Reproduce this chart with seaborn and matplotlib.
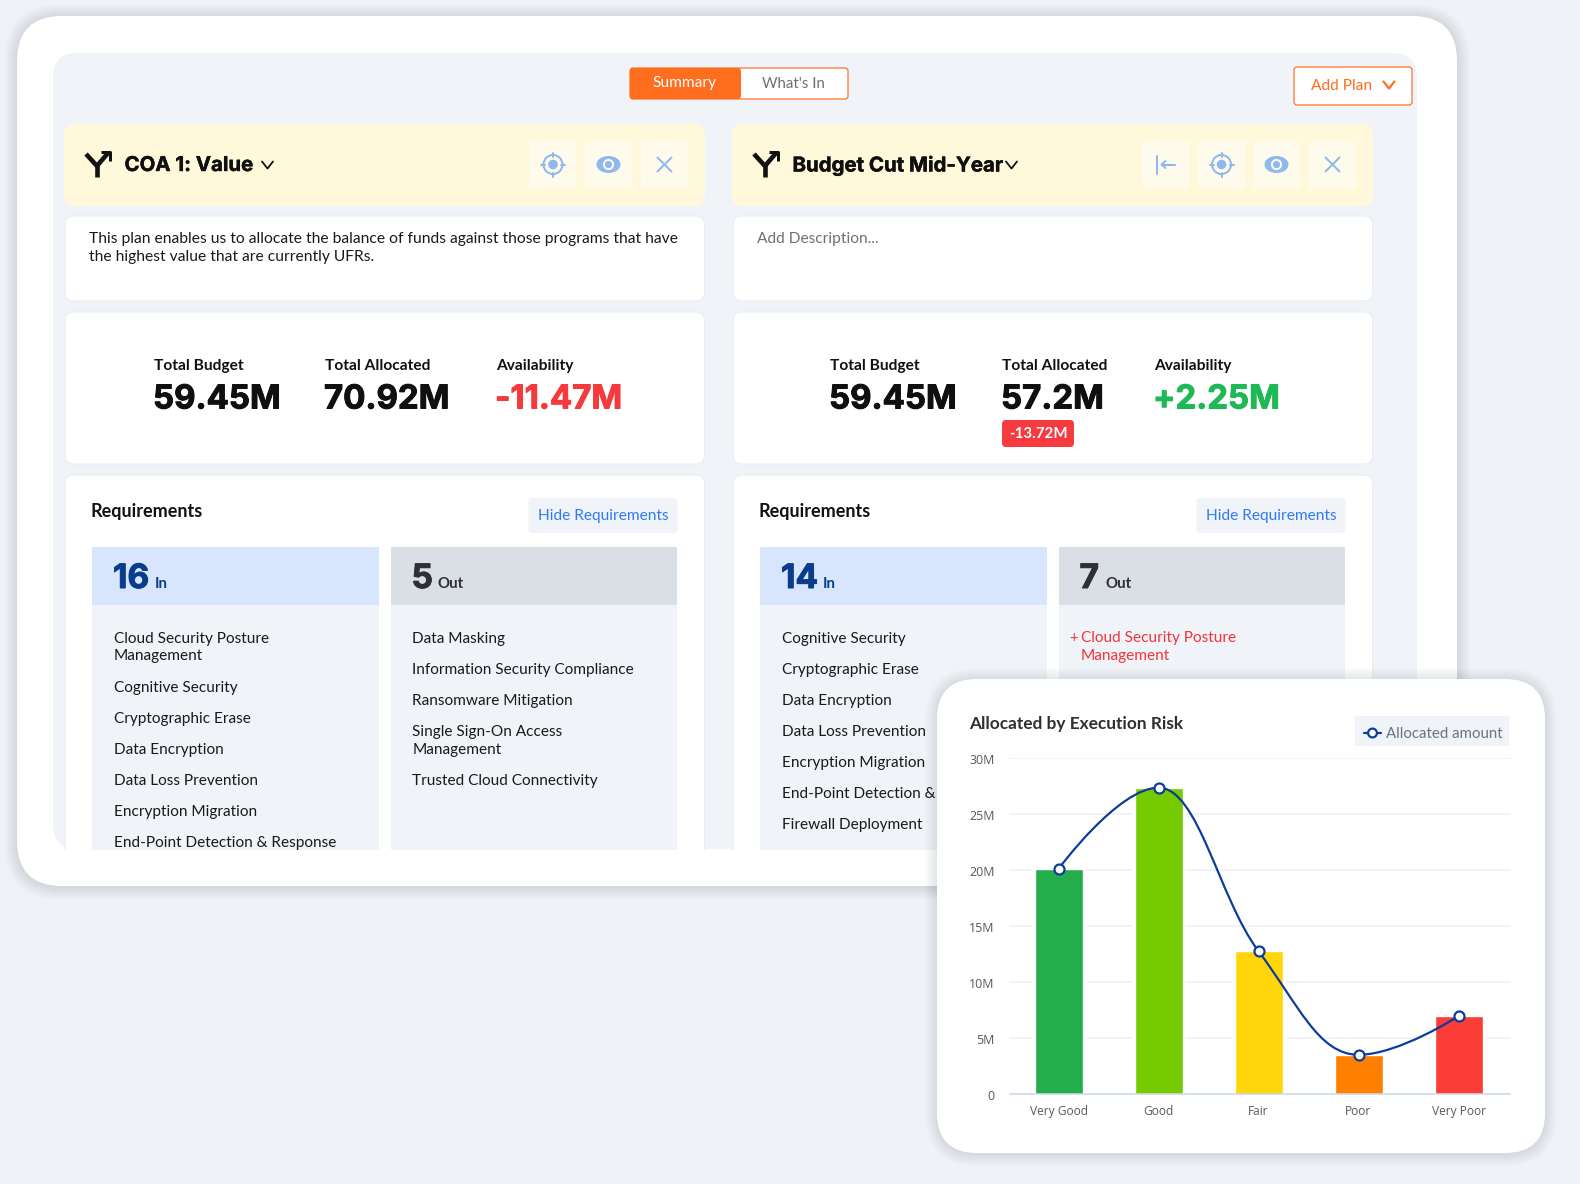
import matplotlib
matplotlib.use("Agg")
import matplotlib.pyplot as plt
import matplotlib.transforms as mtrans
import seaborn as sns
import pandas as pd
import numpy as np
from matplotlib.patches import FancyBboxPatch, Rectangle, Circle, Ellipse, PathPatch
from matplotlib.path import Path
from matplotlib.lines import Line2D
from matplotlib import patheffects as pe

# ---------- data ----------
risk_categories = ["Very Good", "Good", "Fair", "Poor", "Very Poor"]
allocated_millions = [20.1, 27.35, 12.75, 3.5, 6.95]
risk_colors = ["#23AE4B", "#76CB00", "#FFD60A", "#FF8000", "#FB3C37"]
y_ticks = [0, 5, 10, 15, 20, 25, 30]
y_tick_labels = ["0", "5M", "10M", "15M", "20M", "25M", "30M"]

plan_names = ["COA 1: Value", "Budget Cut Mid-Year"]
stat_labels = ["Total Budget", "Total Allocated", "Availability"]
plan1_stats = ["59.45M", "70.92M", "-11.47M"]
plan2_stats = ["59.45M", "57.2M", "+2.25M"]
plan1_desc = ["This plan enables us to allocate the balance of funds against those programs that have",
              "the highest value that are currently UFRs."]
plan1_in = [("Cloud Security Posture", 638), ("Management", 655), ("Cognitive Security", 687),
            ("Cryptographic Erase", 718), ("Data Encryption", 749), ("Data Loss Prevention", 780),
            ("Encryption Migration", 811), ("End-Point Detection & Response", 842)]
plan1_out = [("Data Masking", 638), ("Information Security Compliance", 669), ("Ransomware Mitigation", 700),
             ("Single Sign-On Access", 731), ("Management", 749), ("Trusted Cloud Connectivity", 780)]
plan2_in = [("Cognitive Security", 638), ("Cryptographic Erase", 669), ("Data Encryption", 700),
            ("Data Loss Prevention", 731), ("Encryption Migration", 762),
            ("End-Point Detection & Response", 793), ("Firewall Deployment", 824)]

# ---------- set-up ----------
W, H = 1580, 1184
sns.set_theme(style="white")
FONT = "Lato"
HEAVY = "Inter"
plt.rcParams["font.family"] = [FONT, "DejaVu Sans"]
BG = "#EFF3F8"
PANEL = "#F0F3F7"
ORANGE = "#FF6D1F"
ICON = "#8FB9EE"
BLUE = "#2E7CF6"
NAVY = "#0B3C8C"
RED = "#F5393D"
GREEN = "#1DB954"

fig = plt.figure(figsize=(W / 100, H / 100), dpi=100, facecolor=BG)
ui = fig.add_axes([0, 0, 1, 1])
ui.set_xlim(0, W)
ui.set_ylim(H, 0)
ui.axis("off")
px = 0.72  # points per pixel


def box(x0, y0, x1, y1, fc, r=0.0, ec="none", lw=0.0, z=1, alpha=1.0):
    style = f"round,pad=0,rounding_size={r}" if r else "square,pad=0"
    p = FancyBboxPatch((x0, y0), x1 - x0, y1 - y0, boxstyle=style, fc=fc, ec=ec,
                       lw=lw * px, zorder=z, alpha=alpha, mutation_aspect=1)
    ui.add_patch(p)
    return p


def shadow(x0, y0, x1, y1, r, spread, z, dy=1):
    for i in range(spread, 0, -1):
        box(x0 - i, y0 - i + dy, x1 + i, y1 + i + dy, "#4A5568", r + i, z=z, alpha=0.013)


def text(x, y, s, size, color="#111111", weight="normal", ha="left", z=5, clip=None, family=None, fat=0.0):
    t = ui.text(x, y + 1, s, fontsize=size * px, color=color, fontweight=weight, ha=ha,
                va="center", zorder=z)
    if family:
        t.set_fontfamily(family)
    if fat:
        t.set_path_effects([pe.withStroke(linewidth=fat, foreground=color)])
    if clip is not None:
        t.set_clip_path(clip)
        t.set_clip_on(True)
    return t


def line(xs, ys, color, lw=2.0, z=6, cap="round"):
    ui.add_line(Line2D(xs, ys, color=color, lw=lw * px, zorder=z, solid_capstyle=cap,
                       solid_joinstyle="round"))


def chevron(cx, cy, hw, hh, color, lw=2.0):
    line([cx - hw, cx, cx + hw], [cy - hh, cy + hh, cy - hh], color, lw)


def fork(dx):
    line([97 + dx, 97 + dx], [177, 165], "#111111", 4.6, cap="butt")
    line([86 + dx, 97 + dx, 108 + dx], [154, 166, 153], "#111111", 4.6, cap="butt")
    line([101 + dx, 110 + dx, 110 + dx], [152, 152, 161], "#111111", 3.0, cap="butt")


def target(cx, cy):
    ui.add_patch(Circle((cx, cy), 9.5, fc="none", ec=ICON, lw=2 * px, zorder=6))
    ui.add_patch(Circle((cx, cy), 4.8, fc=ICON, ec="none", zorder=6))
    line([cx, cx], [cy - 12, cy - 8], ICON)
    line([cx, cx], [cy + 8, cy + 12], ICON)
    line([cx - 12, cx - 8], [cy, cy], ICON)
    line([cx + 8, cx + 12], [cy, cy], ICON)


def eye(cx, cy):
    ui.add_patch(Ellipse((cx, cy), 24, 17, fc=ICON, ec="none", zorder=6))
    ui.add_patch(Circle((cx, cy), 5.6, fc="#FFFBEC", ec="none", zorder=6))
    ui.add_patch(Circle((cx, cy), 3.6, fc=ICON, ec="none", zorder=6))


def cross(cx, cy):
    line([cx - 7, cx + 7], [cy - 7, cy + 7], ICON, 2.0)
    line([cx - 7, cx + 7], [cy + 7, cy - 7], ICON, 2.0)


def collapse(cx, cy):
    line([cx - 9, cx - 9], [cy - 9, cy + 9], ICON, 2.0)
    line([cx - 4, cx + 9], [cy, cy], ICON, 2.0)
    line([cx, cx - 4, cx], [cy - 3.5, cy, cy + 3.5], ICON, 2.0)


# ---------- outer frame ----------
shadow(17, 16, 1457, 886, 45, 13, 0.5)
box(17, 16, 1457, 886, "white", 45, z=1)
box(53, 53, 1417, 849, PANEL, 24, z=1.5)
clip_rect = Rectangle((0, 0), W, 849.5, transform=ui.transData)

# ---------- tabs ----------
box(630, 68, 848, 99, "white", 3, ec=ORANGE, lw=1.2, z=2)
box(630, 68, 741, 99, ORANGE, 3, z=2.1)
text(685, 82.5, "Summary", 15.5, "white", ha="center")
text(793.5, 82.5, "What's In", 15, "#6F6F6F", ha="center")
box(1294, 67, 1412, 105, "white", 3, ec=ORANGE, lw=1.2, z=2)
text(1311, 84.5, "Add Plan", 15.5, ORANGE)
chevron(1389, 85, 5.5, 3.5, ORANGE, 2.2)


# ---------- plan columns ----------
def plan(left, dx, name, title_w, stats, stat_x, stat_colors, in_n, out_n, in_items, out_items, icons):
    # header
    box(left - 1, 124, left + 640, 206, "#FFF8DA", 10, z=2)
    fork(dx)
    text(124.5 + dx, 165, name, 20.4, "#0F0F0F", "bold", family=HEAVY, fat=0.3)
    chevron(124.5 + dx + title_w + 14, 165, 5.5, 3.5, "#111111", 1.8)
    for bx, kind in icons:
        box(bx, 141, bx + 47, 188, "#FFFBEC", 2, z=3)
        {"t": target, "e": eye, "x": cross, "c": collapse}[kind](bx + 23.5, 164.5)
    right2 = left + 639.5
    # description
    box(left, 216, right2, 301, "white", 9, ec="#E9EDF3", lw=1, z=2)
    # stats
    box(left, 312, right2, 464, "white", 9, ec="#E9EDF3", lw=1, z=2)
    for lab, v, sx, c in zip(stat_labels, stats, stat_x, stat_colors):
        text(sx, 365, lab, 15.5, "#111111", "bold")
        text(sx - 1, 399, v, 33, c, "bold", family=HEAVY, fat=0.7)
    # requirements
    card = box(left, 475, right2, 880, "white", 9, ec="#E9EDF3", lw=1, z=2)
    card.set_clip_path(clip_rect)
    rx = left + 27
    text(rx - 1, 510, "Requirements", 18, "#111111", "bold")
    hx = left + 463.5
    box(hx, 498, hx + 149, 533, PANEL, 4, z=3)
    text(hx + 74.5, 515, "Hide Requirements", 15.5, BLUE, ha="center")
    box(rx, 547, rx + 287, 605, "#D7E6FC", z=3)
    box(rx, 605, rx + 287, 849.5, PANEL, z=3)
    ox = rx + 298.5
    box(ox, 547, ox + 286.5, 605, "#D9DFE4", z=3)
    box(ox, 605, ox + 286.5, 849.5, PANEL, z=3)
    text(rx + 21, 578, in_n, 33.5, NAVY, "bold", family=HEAVY, fat=0.7)
    text(rx + 63, 583, "In", 15, NAVY, "bold")
    text(ox + 21, 578, out_n, 33.5, "#2E3033", "bold", family=HEAVY, fat=0.7)
    text(ox + 47, 583, "Out", 15, "#2E3033", "bold")
    for s, y in in_items:
        text(rx + 22, y, s, 15.4, "#1A1A1A", clip=clip_rect)
    for s, y in out_items:
        text(ox + 22, y, s, 15.4, "#1A1A1A", clip=clip_rect)


plan(65, 0, plan_names[0], 129, plan1_stats, [154, 325, 496], ["#0F0F0F", "#0F0F0F", RED],
     "16", "5", plan1_in, plan1_out, [(529.5, "t"), (585, "e"), (641, "x")])
text(89, 238, plan1_desc[0], 15.65, "#1A1A1A")
text(89, 256, plan1_desc[1], 15.65, "#1A1A1A")

plan(733, 668, plan_names[1], 205, plan2_stats, [830, 1002, 1154], ["#0F0F0F", "#0F0F0F", GREEN],
     "14", "7", plan2_in, [], [(1142, "c"), (1198, "t"), (1253, "e"), (1309, "x")])
text(757, 238, "Add Description...", 15.5, "#707070")
box(1002, 420, 1074, 447, "#F53B3F", 4, z=4)
text(1038, 433, "-13.72M", 15, "white", "bold", ha="center")
text(1069, 637, "+", 14.5, "#F0353B")
text(1081, 637, "Cloud Security Posture", 15.4, "#F0353B")
text(1081, 655, "Management", 15.4, "#F0353B")

# ---------- chart card ----------
shadow(937, 679, 1545, 1153, 40, 12, 7)
box(937, 679, 1545, 1153, "white", 40, z=8)
text(969, 723, "Allocated by Execution Risk", 17.2, "#2C2F33", "bold", z=9)
box(1355, 716, 1509, 746, PANEL, z=9)
LINE = "#0B3B9B"
line([1364, 1381], [733, 733], LINE, 2.2, z=10)
ui.add_patch(Circle((1372.5, 733), 4.4, fc="white", ec=LINE, lw=2.2 * px, zorder=11))
text(1386.5, 733, "Allocated amount", 15, "#6B7480", z=10)

ax_left, ax_right, ax_top, ax_bottom = 1010, 1510, 758, 1094
ax = fig.add_axes([ax_left / W, 1 - ax_bottom / H, (ax_right - ax_left) / W, (ax_bottom - ax_top) / H],
                  zorder=5)
ax.patch.set_alpha(0)

df = pd.DataFrame({"risk": risk_categories, "allocated": allocated_millions})
sns.barplot(data=df, x="risk", y="allocated", hue="risk", palette=risk_colors, legend=False,
            order=risk_categories, width=0.48, saturation=1, ax=ax, zorder=2)
for bar in ax.patches:
    bar.set_path_effects([pe.Stroke(linewidth=4.4, foreground="white"), pe.Normal()])

ax.set_xlim(-0.485, 4.515)
ax.set_ylim(0, 30)
ax.set_yticks(y_ticks, y_tick_labels)
ax.yaxis.grid(True, color="#EEF0F3", lw=1.5 * px, zorder=0)
ax.set_axisbelow(True)
ax.tick_params(axis="both", length=0, labelcolor="#555A60")
ax.tick_params(axis="y", pad=11, labelsize=12.5 * px)
ax.tick_params(axis="x", pad=8, labelsize=12 * px)
offset = mtrans.ScaledTranslation(0, -1.0 / 100, fig.dpi_scale_trans)
for t in ax.get_xticklabels() + ax.get_yticklabels():
    t.set_fontfamily("Open Sans")
for t in ax.get_yticklabels():
    t.set_transform(t.get_transform() + offset)
sns.despine(ax=ax, left=True, top=True, right=True)
ax.spines["bottom"].set_color("#C8D6EC")
ax.spines["bottom"].set_linewidth(1.5 * px)
ax.spines["bottom"].set_zorder(4)

# smooth spline through the values (control points derived from the values, x = category index)
xs = np.arange(len(allocated_millions), dtype=float)
ys = np.array(allocated_millions, dtype=float)
s = 1.5
verts, codes = [(xs[0], ys[0])], [Path.MOVETO]
left_c, right_c = {}, {}
for i in range(1, len(xs) - 1):
    lx, ly = (s * xs[i] + xs[i - 1]) / (s + 1), (s * ys[i] + ys[i - 1]) / (s + 1)
    rx_, ry = (s * xs[i] + xs[i + 1]) / (s + 1), (s * ys[i] + ys[i + 1]) / (s + 1)
    if (ys[i] - ys[i - 1]) * (ys[i + 1] - ys[i]) < 0:
        ly = ry = ys[i]
    else:
        corr = (ry - ly) * (rx_ - xs[i]) / (rx_ - lx) + ys[i] - ry
        ly += corr
        ry += corr
    left_c[i], right_c[i] = (lx, ly), (rx_, ry)
for i in range(1, len(xs)):
    verts += [right_c.get(i - 1, (xs[i - 1], ys[i - 1])), left_c.get(i, (xs[i], ys[i])), (xs[i], ys[i])]
    codes += [Path.CURVE4] * 3
ax.add_patch(PathPatch(Path(verts, codes), fc="none", ec=LINE, lw=2.2 * px, zorder=5))
sns.scatterplot(data=df, x="risk", y="allocated", s=52, color="white", edgecolor=LINE,
                linewidth=2.2 * px, ax=ax, zorder=6, clip_on=False, legend=False)
ax.set_xlabel("")
ax.set_ylabel("")

fig.savefig("out.png", dpi=100, facecolor=BG)
